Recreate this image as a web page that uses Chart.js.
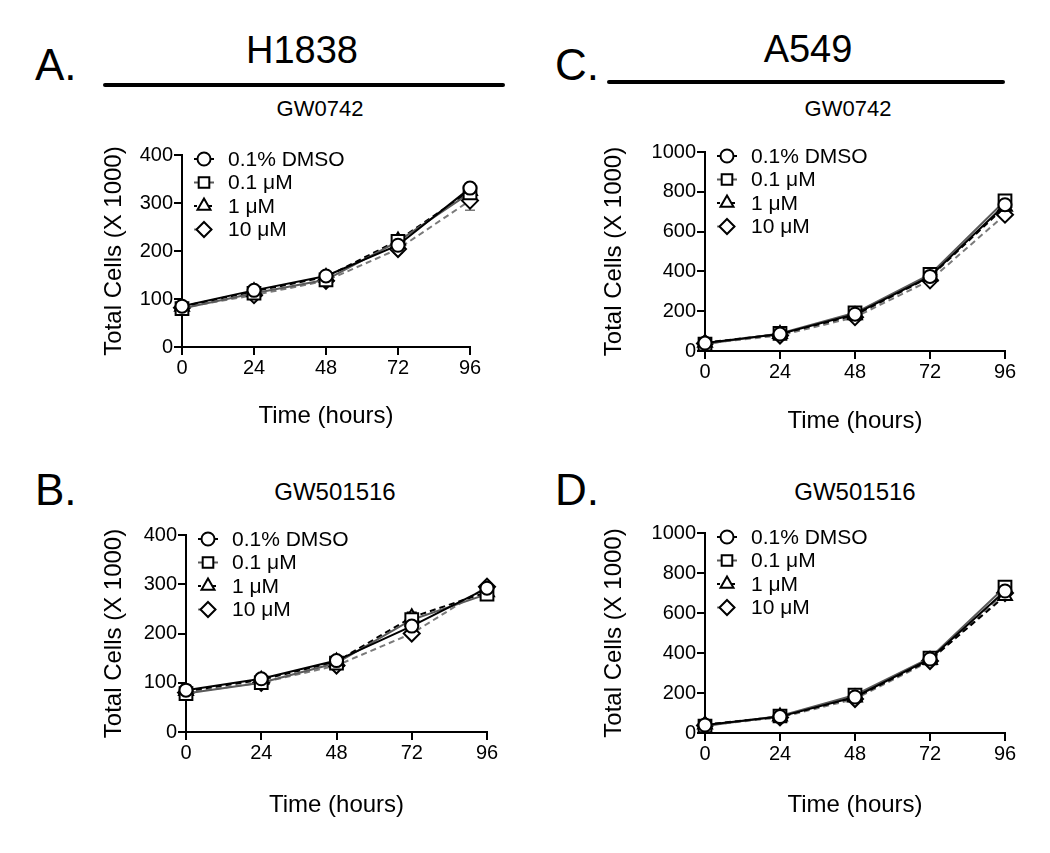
<!DOCTYPE html>
<html>
<head>
<meta charset="utf-8">
<script src="https://cdn.jsdelivr.net/npm/chart.js@4/dist/chart.umd.min.js"></script>
<style>
  body { margin: 0; background: #fff; width: 1050px; height: 853px; position: relative; overflow: hidden; }
  .lbl { position: absolute; font-family: "Liberation Sans", Arial, sans-serif; line-height: 1; white-space: nowrap; color: #000; }
  .mid { transform: translateX(-50%); }
  .bar { position: absolute; height: 4px; background: #000; border-radius: 2px; }
  canvas { position: absolute; }
</style>
</head>
<body>
<div class="lbl" style="left:35px;top:43px;font-size:44px">A.</div>
<div class="lbl mid" style="left:302px;top:31px;font-size:38px">H1838</div>
<div class="bar" style="left:103px;top:83px;width:402px"></div>
<div class="lbl mid" style="left:320px;top:98px;font-size:22px">GW0742</div>

<div class="lbl" style="left:555px;top:43px;font-size:44px">C.</div>
<div class="lbl mid" style="left:808px;top:30px;font-size:38px">A549</div>
<div class="bar" style="left:607px;top:80px;width:398px"></div>
<div class="lbl mid" style="left:848px;top:98px;font-size:22px">GW0742</div>

<div class="lbl" style="left:35px;top:468px;font-size:44px">B.</div>
<div class="lbl mid" style="left:335px;top:480px;font-size:24px">GW501516</div>

<div class="lbl" style="left:555px;top:468px;font-size:44px">D.</div>
<div class="lbl mid" style="left:855px;top:480px;font-size:24px">GW501516</div>

<canvas id="chartA"></canvas>
<canvas id="chartB"></canvas>
<canvas id="chartC"></canvas>
<canvas id="chartD"></canvas>

<script>
// ===== Data =====
const hours = [0, 24, 48, 72, 96];
const seriesLabels = ["0.1% DMSO", "0.1 \u03bcM", "1 \u03bcM", "10 \u03bcM"];

// A: H1838, GW0742 (total cells x 1000)
const aDmso = [85, 118, 148, 212, 331];
const aLow  = [80, 112, 140, 220, 321];
const aMid  = [84, 116, 146, 222, 325];
const aHigh = [82, 108, 138, 204, 305];
const aErr  = [[4, 4, 4, 6, 6], [4, 3, 4, 5, 8], [3, 4, 4, 6, 6], [4, 4, 5, 8, 20]];

// B: H1838, GW501516
const bDmso = [85, 108, 145, 215, 292];
const bLow  = [78, 100, 140, 228, 280];
const bMid  = [83, 106, 143, 233, 284];
const bHigh = [80, 100, 135, 200, 295];
const bErr  = [[10, 4, 4, 8, 5], [4, 3, 4, 6, 6], [4, 4, 4, 10, 6], [4, 4, 4, 6, 5]];

// C: A549, GW0742
const cDmso = [40, 85, 185, 375, 735];
const cLow  = [35, 88, 192, 385, 755];
const cMid  = [42, 85, 180, 372, 725];
const cHigh = [38, 78, 170, 355, 685];
const cErr  = [[8, 8, 10, 12, 15], [8, 8, 10, 12, 15], [8, 8, 10, 12, 15], [8, 8, 10, 12, 15]];

// D: A549, GW501516
const dDmso = [40, 82, 180, 370, 710];
const dLow  = [35, 85, 190, 375, 730];
const dMid  = [42, 82, 178, 365, 685];
const dHigh = [38, 78, 170, 360, 700];
const dErr  = [[8, 8, 10, 12, 15], [8, 8, 10, 12, 15], [8, 8, 10, 12, 15], [8, 8, 10, 12, 15]];

// ===== Styles =====
const FONT = "'Liberation Sans', Arial, sans-serif";
const seriesStyles = [
    { color: "#000", dash: [], point: "circle", r: 6.5 },
    { color: "#5a5a5a", dash: [], point: "rect", r: 9 },
    { color: "#000", dash: [6, 4], point: "triangle", r: 8 },
    { color: "#7a7a7a", dash: [6, 4], point: "rectRot", r: 8 }
];

// draws a hollow marker (used for the legend)
function drawMarker(ctx, type, x, y, r) {
    ctx.beginPath();
    if (type === "circle") {
        ctx.arc(x, y, r, 0, Math.PI * 2);
    } else if (type === "rect") {
        const s = r * Math.SQRT1_2;
        ctx.rect(x - s, y - s, 2 * s, 2 * s);
    } else if (type === "triangle") {
        ctx.moveTo(x, y - r);
        ctx.lineTo(x + r * 0.866, y + r * 0.5);
        ctx.lineTo(x - r * 0.866, y + r * 0.5);
        ctx.closePath();
    } else {
        ctx.moveTo(x, y - r);
        ctx.lineTo(x + r, y);
        ctx.lineTo(x, y + r);
        ctx.lineTo(x - r, y);
        ctx.closePath();
    }
    ctx.fillStyle = "#fff";
    ctx.fill();
    ctx.lineWidth = 2;
    ctx.strokeStyle = "#000";
    ctx.setLineDash([]);
    ctx.stroke();
}

// legend inside the plot, top-left
const insideLegend = {
    id: "insideLegend",
    afterDraw(chart) {
        const ctx = chart.ctx;
        const area = chart.chartArea;
        ctx.save();
        chart.data.datasets.forEach((ds, i) => {
            const st = seriesStyles[i];
            const mx = area.left + 22;
            const my = area.top + 4 + i * 23.5;
            ctx.beginPath();
            ctx.setLineDash(st.dash.length ? [3, 2] : []);
            ctx.strokeStyle = st.color;
            ctx.lineWidth = 2;
            ctx.moveTo(mx - 10, my);
            ctx.lineTo(mx + 10, my);
            ctx.stroke();
            drawMarker(ctx, st.point, mx, my, Math.min(st.r, 7.5));
            ctx.fillStyle = "#000";
            ctx.font = "21px " + FONT;
            ctx.textBaseline = "middle";
            ctx.textAlign = "left";
            ctx.fillText(ds.label, area.left + 46, my + 1);
        });
        ctx.restore();
    }
};

// error bars (mean +/- err) under the markers
const errorBars = {
    id: "errorBars",
    beforeDatasetsDraw(chart) {
        const ctx = chart.ctx;
        const xs = chart.scales.x, ys = chart.scales.y;
        const errs = chart.options.plugins.errorBars.errs;
        ctx.save();
        chart.data.datasets.forEach((ds, i) => {
            ctx.strokeStyle = seriesStyles[i].color;
            ctx.lineWidth = 1.5;
            ctx.setLineDash([]);
            ds.data.forEach((p, j) => {
                const e = errs[i][j];
                const x = xs.getPixelForValue(p.x);
                const y1 = ys.getPixelForValue(p.y - e);
                const y2 = ys.getPixelForValue(p.y + e);
                ctx.beginPath();
                ctx.moveTo(x, y1); ctx.lineTo(x, y2);
                ctx.moveTo(x - 5, y1); ctx.lineTo(x + 5, y1);
                ctx.moveTo(x - 5, y2); ctx.lineTo(x + 5, y2);
                ctx.stroke();
            });
        });
        ctx.restore();
    }
};

// ===== Chart builder =====
function makePanel(id, box, series, errs, yMax, yStep) {
    const canvas = document.getElementById(id);
    canvas.width = box.w;
    canvas.height = box.h;
    canvas.style.left = box.x + "px";
    canvas.style.top = box.y + "px";
    canvas.style.width = box.w + "px";
    canvas.style.height = box.h + "px";

    const datasets = series.map((vals, i) => {
        const st = seriesStyles[i];
        return {
            label: seriesLabels[i],
            data: hours.map((h, j) => ({ x: h, y: vals[j] })),
            borderColor: st.color,
            borderWidth: 2,
            borderDash: st.dash,
            pointStyle: st.point,
            pointRadius: st.r,
            pointBorderWidth: 2,
            pointBorderColor: "#000",
            pointBackgroundColor: "#fff",
            tension: 0,
            clip: false
        };
    });

    const axisStyle = {
        border: { color: "#000", width: 2 },
        grid: { drawOnChartArea: false, drawTicks: true, tickLength: 8, color: "#000", lineWidth: 2 }
    };

    return new Chart(canvas.getContext("2d"), {
        type: "line",
        data: { datasets },
        options: {
            responsive: false,
            animation: false,
            devicePixelRatio: 1,
            layout: { padding: { left: 0, top: box.padTop, right: box.padRight, bottom: 0 } },
            plugins: {
                legend: { display: false },
                tooltip: { enabled: false },
                errorBars: { errs }
            },
            scales: {
                x: {
                    type: "linear",
                    min: 0, max: 96,
                    ...axisStyle,
                    ticks: { stepSize: 24, color: "#000", padding: 1, font: { family: FONT, size: 20 } },
                    title: { display: true, text: "Time (hours)", color: "#000", padding: 0, font: { family: FONT, size: 24 } },
                    afterFit: s => { s.height = box.xH; }
                },
                y: {
                    min: 0, max: yMax,
                    ...axisStyle,
                    ticks: { stepSize: yStep, color: "#000", padding: 1, font: { family: FONT, size: 20 },
                             callback: v => String(v) },
                    title: { display: true, text: "Total Cells (X 1000)", color: "#000", padding: 0, font: { family: FONT, size: 24 } },
                    afterFit: s => { s.width = box.yW; }
                }
            }
        },
        plugins: [errorBars, insideLegend]
    });
}

makePanel("chartA", { x: 100, y: 140, w: 390, h: 291, padTop: 15, padRight: 20, yW: 82, xH: 84 },
    [aDmso, aLow, aMid, aHigh], aErr, 400, 100);
makePanel("chartB", { x: 100, y: 520, w: 407, h: 300, padTop: 15, padRight: 20, yW: 86, xH: 88 },
    [bDmso, bLow, bMid, bHigh], bErr, 400, 100);
makePanel("chartC", { x: 600, y: 137, w: 425, h: 299, padTop: 15, padRight: 20, yW: 105, xH: 85 },
    [cDmso, cLow, cMid, cHigh], cErr, 1000, 200);
makePanel("chartD", { x: 600, y: 518, w: 425, h: 302, padTop: 15, padRight: 20, yW: 105, xH: 87 },
    [dDmso, dLow, dMid, dHigh], dErr, 1000, 200);
</script>
</body>
</html>
